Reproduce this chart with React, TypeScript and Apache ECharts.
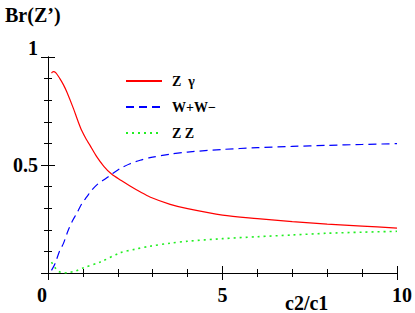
import React, { useEffect, useRef } from "react";
import * as echarts from "echarts";

const zgX = [0.1, 0.15, 0.22, 0.34, 0.44, 0.54, 0.73, 0.85, 0.97, 1.1, 1.2, 1.39, 1.6, 1.82, 2.1, 2.35, 2.65, 2.92, 3.5, 4, 5, 6, 7, 8, 9, 10];
const zgY = [0.925, 0.932, 0.928, 0.9, 0.872, 0.838, 0.761, 0.707, 0.658, 0.618, 0.592, 0.54, 0.494, 0.458, 0.428, 0.403, 0.375, 0.352, 0.318, 0.298, 0.268, 0.252, 0.238, 0.226, 0.217, 0.208];

const wwX = [0.1, 0.2, 0.34, 0.44, 0.58, 0.71, 0.82, 0.97, 1.11, 1.25, 1.44, 1.58, 1.82, 2.06, 2.35, 2.64, 2.92, 3.5, 4, 5, 6, 7, 8, 9, 10];
const wwY = [0.012, 0.043, 0.105, 0.136, 0.198, 0.244, 0.275, 0.321, 0.352, 0.383, 0.414, 0.429, 0.457, 0.483, 0.506, 0.522, 0.534, 0.55, 0.56, 0.572, 0.58, 0.586, 0.591, 0.595, 0.599];

const zzX = [0.1, 0.2, 0.3, 0.45, 0.6, 0.8, 1.0, 1.5, 2.06, 2.5, 2.92, 3.5, 4, 5, 6, 7, 8, 9, 10];
const zzY = [0.05, 0.025, 0.008, 0.0, 0.002, 0.01, 0.023, 0.051, 0.093, 0.11, 0.124, 0.138, 0.147, 0.159, 0.168, 0.176, 0.184, 0.189, 0.193];

const seriesNames = ["Z  \u03b3", "W+W\u2212", "Z Z"];
const xTickLabels = ["0", "5", "10"];
const yTickLabels = ["0.5", "1"];
const titleText = "Br(Z\u2019)";
const xName = "c2/c1";

const FONT = "'Liberation Serif', 'DejaVu Serif', serif";

function pairs(xs: number[], ys: number[]) {
  return xs.map((x, i) => [x, ys[i]]);
}

export default function App() {
  const ref = useRef<HTMLDivElement>(null);
  useEffect(() => {
    if (!ref.current) return;
    const chart = echarts.init(ref.current, null, { renderer: "svg" });
    const labelBase = { fontFamily: FONT, fontWeight: "bold" as const, fontSize: 20, color: "#000" };
    const axisCommon = {
      axisLine: { show: true, lineStyle: { color: "#000", width: 1 } },
      axisTick: { show: true, inside: true, length: 7, lineStyle: { color: "#000" } },
      minorTick: { show: true, splitNumber: 5, length: 4, lineStyle: { color: "#000" } },
      splitLine: { show: false },
      minorSplitLine: { show: false },
    };
    chart.setOption({
      animation: false,
      backgroundColor: "#fff",
      title: [
        { text: titleText, left: 5, top: 5, padding: 0, textStyle: { ...labelBase } },
        { text: xName, left: 285, top: 293, padding: 0, textStyle: { ...labelBase } },
      ],
      legend: {
        orient: "vertical",
        left: 125,
        top: 74,
        padding: 0,
        itemWidth: 36,
        itemHeight: 14,
        itemGap: 12,
        itemStyle: { opacity: 0 },
        textStyle: { fontFamily: FONT, fontWeight: "bold", fontSize: 14, color: "#000", padding: [0, 0, 0, 5] },
        data: seriesNames,
      },
      grid: { left: 48, right: 18, top: 57, bottom: 40 },
      xAxis: [
        {
          type: "value",
          min: 0,
          max: 10,
          interval: 5,
          position: "bottom",
          ...axisCommon,
          axisLabel: {
            ...labelBase,
            margin: 12,
            formatter: (v: number) => {
              const s = String(v);
              if (!xTickLabels.includes(s)) return "";
              if (s === "0") return "{l|0}";
              if (s === "10") return "{r|10}";
              return s;
            },
            rich: {
              l: { ...labelBase, padding: [0, 12, 0, 0] },
              r: { ...labelBase, padding: [0, 0, 0, 10] },
            },
          },
        },
        {
          type: "value",
          min: 0,
          max: 10,
          interval: 5,
          position: "top",
          ...axisCommon,
          axisLabel: { show: false },
        },
      ],
      yAxis: [
        {
          type: "value",
          min: 0,
          max: 1,
          interval: 0.5,
          position: "left",
          ...axisCommon,
          axisLabel: {
            ...labelBase,
            margin: 10,
            formatter: (v: number) => {
              const s = String(v);
              if (!yTickLabels.includes(s)) return "";
              if (s === "1") return "{t|1}";
              return s;
            },
            rich: { t: { ...labelBase, padding: [0, 0, 18, 0] } },
          },
        },
        {
          type: "value",
          min: 0,
          max: 1,
          interval: 0.5,
          position: "right",
          ...axisCommon,
          axisLabel: { show: false },
        },
      ],
      series: [
        {
          name: seriesNames[0],
          type: "line",
          data: pairs(zgX, zgY),
          smooth: 0.3,
          symbol: "none",
          lineStyle: { color: "#ff0000", width: 1.2, type: "solid" },
          itemStyle: { color: "#ff0000" },
        },
        {
          name: seriesNames[1],
          type: "line",
          data: pairs(wwX, wwY),
          smooth: 0.3,
          symbol: "none",
          lineStyle: { color: "#0000ff", width: 1.2, type: [8, 5] },
          itemStyle: { color: "#0000ff" },
        },
        {
          name: seriesNames[2],
          type: "line",
          data: pairs(zzX, zzY),
          smooth: 0.3,
          symbol: "none",
          lineStyle: { color: "#22ee22", width: 1.6, type: [2, 4] },
          itemStyle: { color: "#22ee22" },
        },
      ],
    });
    return () => chart.dispose();
  }, []);
  return <div ref={ref} style={{ width: 415, height: 313, position: "absolute", left: 0, top: 0 }} />;
}
